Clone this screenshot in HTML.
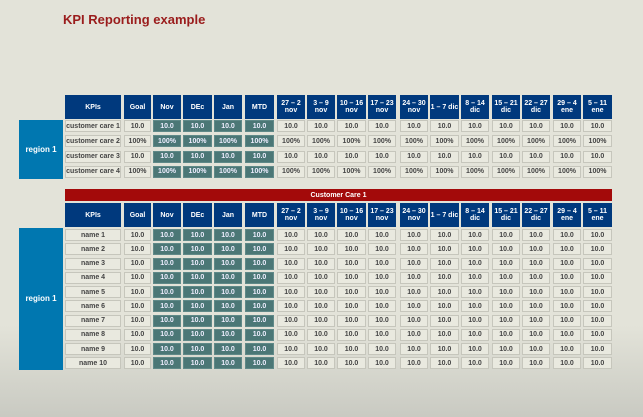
<!DOCTYPE html>
<html><head><meta charset="utf-8">
<style>
body{margin:0;width:643px;height:417px;overflow:hidden;background:linear-gradient(#e3e3d9 0%,#e3e3d9 78%,#c9cac2 100%);font-family:"Liberation Sans",sans-serif;position:relative}
.c{position:absolute;box-sizing:border-box;display:flex;align-items:center;justify-content:center;text-align:center;font-weight:bold;line-height:1}
.h{background:#00397d;color:#fff;font-size:7px}
.d{background:#e9e9df;border:1px solid #c6c6bc;color:#444;font-size:7px}
.t{background:#4b7776;color:#eef;font-size:7px;border:1px solid #5f8988}
.r{background:#0077b0;color:#fff;font-size:8px}
</style></head><body>
<div style="position:absolute;left:63px;top:12px;font-size:13px;font-weight:bold;color:#9a1c1c">KPI Reporting example</div>
<div id="root"></div>
<script>
const headers=["KPIs","Goal","Nov","DEc","Jan","MTD","27 – 2<br>nov","3 – 9<br>nov","10 – 16<br>nov","17 – 23<br>nov","24 – 30<br>nov","1 – 7 dic","8 – 14<br>dic","15 – 21<br>dic","22 – 27<br>dic","29 – 4<br>ene","5 – 11<br>ene"];
const colX=[65,124,153,183,214,245,277,307,337,368,400,430,461,492,522,553,583];
const colW=[56,27,28,29,28,29,28,28,29,28,28,29,28,28,28,28,29];
const table1Rows=["customer care 1","customer care 2","customer care 3","customer care 4"];
const table1Vals=["10.0","100%","10.0","100%"];
const table2Rows=["name 1","name 2","name 3","name 4","name 5","name 6","name 7","name 8","name 9","name 10"];
const table2Vals=["10.0","10.0","10.0","10.0","10.0","10.0","10.0","10.0","10.0","10.0"];
const root=document.getElementById('root');
function cell(cls,x,y,w,h,txt){const e=document.createElement('div');e.className='c '+cls;e.style.left=x+'px';e.style.top=y+'px';e.style.width=w+'px';e.style.height=h+'px';e.innerHTML=txt;root.appendChild(e);return e;}
function table(hy,rowY0,pitch,rows,vals,regionTop,regionBottom){
  headers.forEach((t,i)=>{const e=cell('h',colX[i],hy,colW[i],24,t);
    
    });
  const r=cell('r',19,regionTop,44,regionBottom-regionTop,'region 1');
  
  
  rows.forEach((name,j)=>{const y=rowY0+j*pitch;
    const n=cell('d',colX[0],y,colW[0],12,name);
    
    
    for(let i=1;i<headers.length;i++){const cls=(i>=2&&i<=5)?'t':'d';
      const e=cell(cls,colX[i],y,colW[i],12,vals[j]);
      
      }
  });
}
table(95,120,15.3,table1Rows,table1Vals,120,179);
const bar=cell('',65,189,547,12,'Customer Care 1');
bar.style.background='#a30a0a';bar.style.color='#fff';bar.style.fontSize='7px';


table(203,229,14.25,table2Rows,table2Vals,228,370);
</script>
</body></html>
